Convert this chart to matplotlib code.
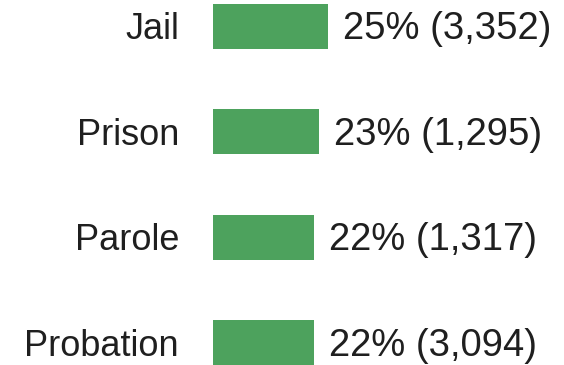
import matplotlib.pyplot as plt

categories = ["Jail", "Prison", "Parole", "Probation"]
shares = [25, 23, 22, 22]
counts = [3352, 1295, 1317, 3094]

bar_color = "#4da25d"
text_color = "#1f1f1f"

plt.rcParams['font.family'] = ['Liberation Sans', 'DejaVu Sans']

fig = plt.figure(figsize=(5.64, 3.65), dpi=100)
left_px = 213
ax = fig.add_axes([left_px / 564, 0, 1 - left_px / 564, 1])

pos = list(range(len(categories)))
ax.barh(pos, shares, height=0.427, color=bar_color)

# 4.6 px per percentage point
ax.set_xlim(0, (564 - left_px) / 4.6)
ax.set_ylim(3.21, -0.251)
ax.axis('off')

for p, name, s, c in zip(pos, categories, shares, counts):
    ax.annotate(name, xy=(0, p), xytext=(-34, -13), textcoords='offset pixels',
                ha='right', va='baseline', fontsize=26, color=text_color)
    ax.annotate(f"{s}% ({c:,})", xy=(s, p), xytext=(15, -13),
                textcoords='offset pixels', ha='left', va='baseline',
                fontsize=27.5, color=text_color)

fig.savefig("out.png", dpi=100)
